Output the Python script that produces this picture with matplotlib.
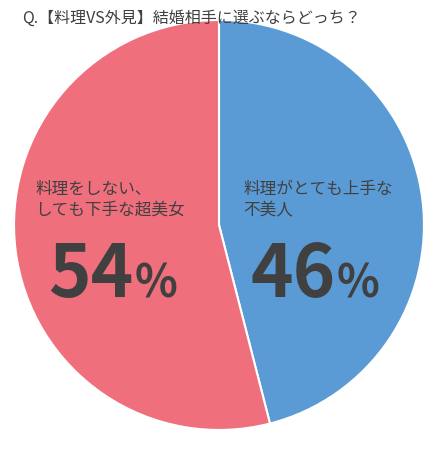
import matplotlib
matplotlib.use('Agg')
import matplotlib.pyplot as plt

plt.rcParams['font.family'] = ['Noto Sans CJK JP', 'DejaVu Sans']

W, H = 443, 471
labels = ['料理がとても上手な\n不美人', '料理をしない、\nしても下手な超美女']
values = [46, 54]
colors = ['#5b9bd5', '#f06f7d']
title = 'Q.【料理VS外見】結婚相手に選ぶならどっち？'
TXT = '#404040'

fig = plt.figure(figsize=[W/100, H/100], dpi=100)
ax = fig.add_axes([13/W, 40/H, 412/W, 412/H])
ax.pie(values, colors=colors, startangle=90, counterclock=False, radius=1,
       wedgeprops=dict(edgecolor='white', linewidth=1.5))
ax.set_xlim(-1.005, 1.005)
ax.set_ylim(-1.005, 1.005)
ax.set_aspect('equal')

def px(x, y):
    return x / W, 1 - y / H

fig.text(*px(22, 18), title, fontsize=11.5, color=TXT, va='center', ha='left')

# right (blue) slice
fig.text(*px(243, 200), labels[0], fontsize=12, color=TXT, va='center', ha='left', linespacing=1.3)
fig.text(*px(250, 276), '%d' % values[0], fontsize=52, color=TXT, va='center', ha='left', fontweight='bold')
fig.text(*px(337, 284), '%', fontsize=32, color=TXT, va='center', ha='left', fontweight='bold')

# left (red) slice
fig.text(*px(35, 200), labels[1], fontsize=12, color=TXT, va='center', ha='left', linespacing=1.3)
fig.text(*px(48, 276), '%d' % values[1], fontsize=52, color=TXT, va='center', ha='left', fontweight='bold')
fig.text(*px(135, 284), '%', fontsize=32, color=TXT, va='center', ha='left', fontweight='bold')

plt.savefig('out.png', dpi=100)
